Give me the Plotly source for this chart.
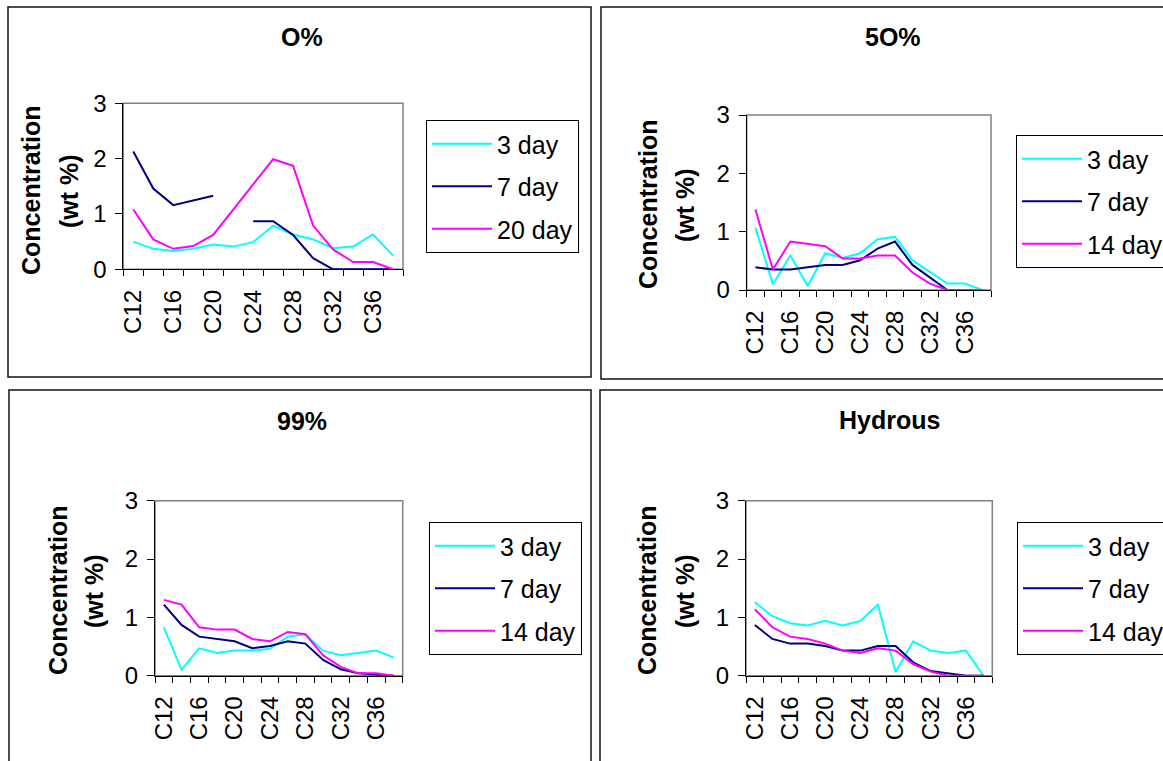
import plotly.graph_objects as go

W, H = 1163, 761

categories = ["C12", "C14", "C16", "C18", "C20", "C22", "C24", "C26",
              "C28", "C30", "C32", "C34", "C36", "C38"]

panel_titles = ["O%", "5O%", "99%", "Hydrous"]

series_names_0 = ["3 day", "7 day", "20 day"]
series_names = ["3 day", "7 day", "14 day"]

p1_3day = [0.50, 0.37, 0.33, 0.37, 0.45, 0.41, 0.49, 0.79, 0.63, 0.54, 0.38, 0.41, 0.63, 0.25]
p1_7day = [2.13, 1.46, 1.16, 1.25, 1.33, None, 0.87, 0.87, 0.62, 0.20, 0.0, 0.0, 0.0, 0.0]
p1_20day = [1.08, 0.54, 0.37, 0.42, 0.62, 1.08, 1.53, 1.99, 1.87, 0.79, 0.36, 0.13, 0.13, 0.0]

p2_3day = [1.07, 0.10, 0.59, 0.07, 0.63, 0.55, 0.63, 0.87, 0.91, 0.51, 0.31, 0.11, 0.11, 0.0]
p2_7day = [0.39, 0.35, 0.35, 0.39, 0.43, 0.43, 0.51, 0.71, 0.83, 0.43, 0.22, 0.0, 0.0, 0.0]
p2_14day = [1.38, 0.35, 0.83, 0.79, 0.75, 0.54, 0.54, 0.59, 0.59, 0.30, 0.11, 0.0, 0.0, 0.0]

p3_3day = [0.83, 0.10, 0.47, 0.39, 0.43, 0.43, 0.46, 0.67, 0.71, 0.43, 0.35, 0.39, 0.43, 0.31]
p3_7day = [1.22, 0.87, 0.67, 0.63, 0.59, 0.47, 0.51, 0.59, 0.55, 0.27, 0.11, 0.04, 0.02, 0.0]
p3_14day = [1.30, 1.22, 0.83, 0.79, 0.79, 0.63, 0.59, 0.75, 0.71, 0.35, 0.15, 0.04, 0.04, 0.0]

p4_3day = [1.26, 1.02, 0.90, 0.86, 0.94, 0.86, 0.94, 1.22, 0.06, 0.59, 0.43, 0.39, 0.43, 0.0]
p4_7day = [0.87, 0.63, 0.55, 0.55, 0.51, 0.43, 0.43, 0.51, 0.51, 0.23, 0.08, 0.04, 0.0, 0.0]
p4_14day = [1.14, 0.83, 0.67, 0.63, 0.55, 0.43, 0.39, 0.47, 0.43, 0.20, 0.07, 0.0, 0.0, 0.0]

y_ticks = [0, 1, 2, 3]
x_tick_labels = categories[0:13:2]

colors = ["#00FFFF", "#000080", "#FF00FF"]
FONT = "Liberation Sans, Arial, sans-serif"

panels_data = [
    (p1_3day, p1_7day, p1_20day),
    (p2_3day, p2_7day, p2_14day),
    (p3_3day, p3_7day, p3_14day),
    (p4_3day, p4_7day, p4_14day),
]
panels_names = [series_names_0, series_names, series_names, series_names]

# layout geometry in pixels
plot_px = [  # x0, x1, ytop, ybottom
    (123.3, 403.0, 103.3, 269.3),
    (746.7, 991.0, 115.0, 290.0),
    (155.0, 402.7, 500.7, 675.7),
    (746.0, 992.3, 500.7, 675.7),
]
border_px = [
    (8, 591, 7, 377),
    (601, 1175, 7, 379),
    (9, 591, 390, 775),
    (600, 1175, 390, 775),
]
title_px = [(302, 37), (893, 37), (302, 421), (889, 420)]
ytitle_px = [  # x line1, x line2, y center
    (31, 69, 191),
    (648, 685, 205),
    (58, 94, 591),
    (647, 685, 591),
]
legend_px = [(426, 120), (1016, 135), (429, 522), (1017, 522)]

TICK_SIZE = 24
LEGEND_SIZE = 25
TITLE_SIZE = 25
YTITLE_SIZE = 25


def px(x):
    return x / W


def py(y):
    return 1 - y / H


xi = list(range(len(categories)))
fig = go.Figure()
legend_keys = ["legend", "legend2", "legend3", "legend4"]

for p in range(4):
    for s in range(3):
        fig.add_trace(go.Scatter(
            x=xi, y=panels_data[p][s], mode="lines",
            name=panels_names[p][s],
            line=dict(color=colors[s], width=2),
            xaxis="x" if p == 0 else f"x{p+1}",
            yaxis="y" if p == 0 else f"y{p+1}",
            legend=legend_keys[p],
            legendgroup=f"p{p}s{s}",
            connectgaps=False,
            hoverinfo="skip",
        ))

layout = dict(
    width=W, height=H,
    margin=dict(l=0, r=0, t=0, b=0, autoexpand=False),
    paper_bgcolor="white", plot_bgcolor="white",
    font=dict(family=FONT, color="black", size=TICK_SIZE),
    showlegend=True,
)

shapes = []
annotations = []
for p in range(4):
    x0, x1, yt, yb = plot_px[p]
    sfx = "" if p == 0 else str(p + 1)
    layout["xaxis" + sfx] = dict(
        domain=[px(x0), px(x1)], anchor="y" + sfx,
        range=[-0.5, len(categories) - 0.5],
        tickmode="array", tickvals=xi[0:13:2], ticktext=x_tick_labels,
        tickangle=-90, ticks="", ticklabelstandoff=10,
        tickfont=dict(size=TICK_SIZE, family=FONT, color="black"),
        minor=dict(ticks="outside", tick0=-0.5, dtick=1, ticklen=6,
                   tickcolor="black", tickwidth=1, showgrid=False),
        showline=True, linecolor="black", linewidth=1,
        showgrid=False, zeroline=False, layer="below traces",
        fixedrange=True,
    )
    layout["yaxis" + sfx] = dict(
        domain=[py(yb), py(yt)], anchor="x" + sfx,
        range=[0, 3], tickmode="array", tickvals=y_ticks,
        ticks="outside", ticklen=7, tickcolor="black", tickwidth=1,
        ticklabelstandoff=4,
        tickfont=dict(size=TICK_SIZE, family=FONT, color="black"),
        showline=True, linecolor="black", linewidth=1,
        showgrid=False, zeroline=False, layer="below traces",
        fixedrange=True,
    )
    shapes.append(dict(type="rect", xref=f"x{sfx} domain", yref=f"y{sfx} domain",
                       x0=0, x1=1, y0=0, y1=1, layer="below",
                       line=dict(color="#808080", width=1.5)))
    bx0, bx1, by0, by1 = border_px[p]
    shapes.append(dict(type="rect", xref="paper", yref="paper",
                       x0=px(bx0), x1=px(bx1), y0=py(by1), y1=py(by0),
                       line=dict(color="#111111", width=1.5), layer="above"))
    tx, ty = title_px[p]
    annotations.append(dict(text=f"<b>{panel_titles[p]}</b>", x=px(tx), y=py(ty),
                            xref="paper", yref="paper", showarrow=False,
                            xanchor="center", yanchor="middle",
                            font=dict(size=TITLE_SIZE, family=FONT, color="black")))
    l1, l2, yc = ytitle_px[p]
    for lx, txt in ((l1, "Concentration"), (l2, "(wt %)")):
        annotations.append(dict(text=f"<b>{txt}</b>", x=px(lx), y=py(yc),
                                xref="paper", yref="paper", showarrow=False,
                                textangle=-90, xanchor="center", yanchor="middle",
                                font=dict(size=YTITLE_SIZE, family=FONT, color="black")))
    lx, ly = legend_px[p]
    layout[legend_keys[p]] = dict(
        x=px(lx), y=py(ly), xref="paper", yref="paper",
        xanchor="left", yanchor="top",
        bordercolor="black", borderwidth=1, bgcolor="white",
        font=dict(size=LEGEND_SIZE, family=FONT, color="black"),
        traceorder="grouped", tracegroupgap=7, itemwidth=60,
        itemclick=False, itemdoubleclick=False,
    )

layout["shapes"] = shapes
layout["annotations"] = annotations
fig.update_layout(**layout)

fig.write_html("out.html", include_plotlyjs=True, config={"displayModeBar": False})
